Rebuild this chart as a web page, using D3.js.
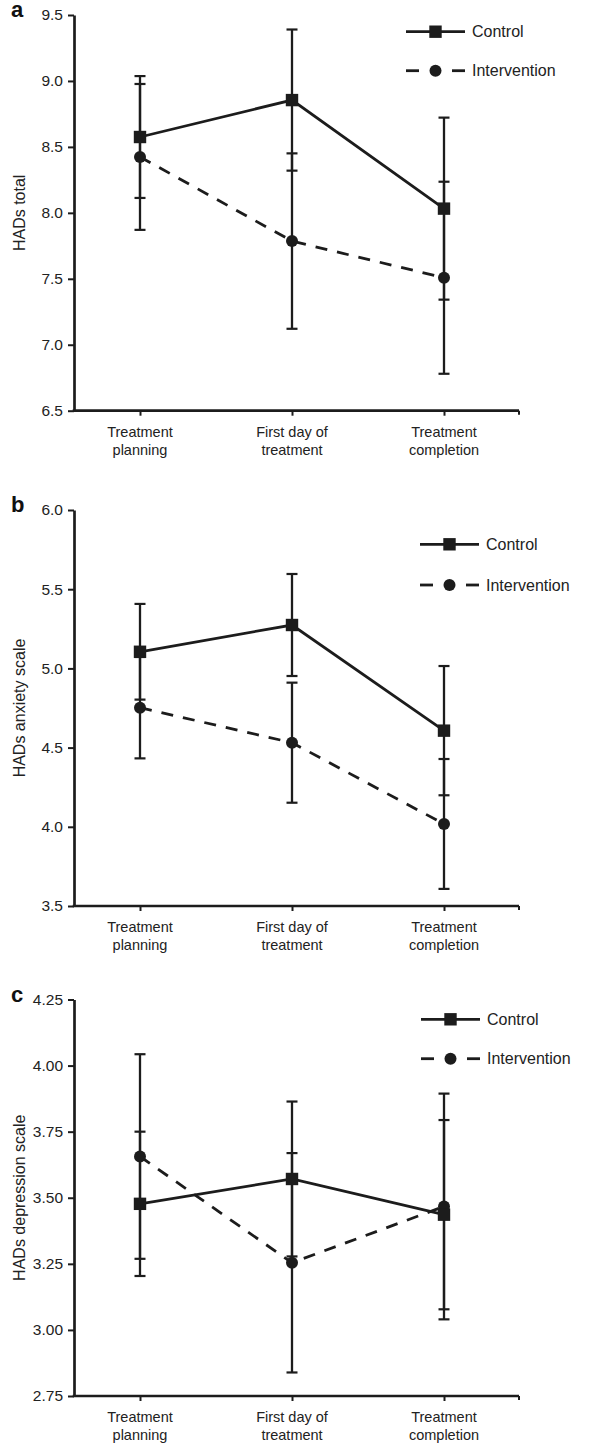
<!DOCTYPE html>
<html><head><meta charset="utf-8">
<script src="https://cdn.jsdelivr.net/npm/d3@7"></script>
<style>
html,body{margin:0;padding:0;background:#fff;}
svg{display:block;font-family:"Liberation Sans",Arial,Helvetica,sans-serif;}
</style></head>
<body>
<svg id="chart" width="605" height="1443"></svg>
<script>
// ---------- data ----------
const categories = [["Treatment","planning"],["First day of","treatment"],["Treatment","completion"]];
const seriesNames = ["Control","Intervention"];
const panelLetters = ["a","b","c"];
const yLabels = ["HADs total","HADs anxiety scale","HADs depression scale"];

const yTicksA = [6.5,7.0,7.5,8.0,8.5,9.0,9.5];
const yTicksB = [3.5,4.0,4.5,5.0,5.5,6.0];
const yTicksC = [2.75,3.00,3.25,3.50,3.75,4.00,4.25];

const controlA = [8.575, 8.855, 8.032];
const controlErrA = [0.462, 0.535, 0.69];
const interventionA = [8.424, 7.786, 7.508];
const interventionErrA = [0.553, 0.665, 0.728];

const controlB = [5.105, 5.274, 4.607];
const controlErrB = [0.302, 0.322, 0.408];
const interventionB = [4.752, 4.531, 4.018];
const interventionErrB = [0.32, 0.379, 0.41];

const controlC = [3.477, 3.571, 3.436];
const controlErrC = [0.273, 0.293, 0.358];
const interventionC = [3.656, 3.254, 3.467];
const interventionErrC = [0.387, 0.415, 0.427];

// ---------- layout ----------
const panels = [
  {ticks:yTicksA, fmt:".1f", ctrl:controlA, ctrlE:controlErrA, int:interventionA, intE:interventionErrA,
   yTop:15, yBot:410.7, letterY:17, legX:406, legY:[31.7,70.7]},
  {ticks:yTicksB, fmt:".1f", ctrl:controlB, ctrlE:controlErrB, int:interventionB, intE:interventionErrB,
   yTop:510, yBot:906, letterY:511.5, legX:420, legY:[544.3,585]},
  {ticks:yTicksC, fmt:".2f", ctrl:controlC, ctrlE:controlErrC, int:interventionC, intE:interventionErrC,
   yTop:999.5, yBot:1396, letterY:1001.5, legX:421, legY:[1019.3,1058.7]}
];
const axisX0 = 74, axisX1 = 519;
const ink = "#1c1c1c", textCol = "#222";
const dash = "12,10";

const svg = d3.select("#chart");
const x = d3.scalePoint().domain(d3.range(categories.length)).range([140,444]);

panels.forEach((p,pi)=>{
  const g = svg.append("g");
  const ext = d3.extent(p.ticks);
  const y = d3.scaleLinear().domain(ext).range([p.yBot,p.yTop]);

  // Y axis
  const ya = g.append("g").attr("transform",`translate(${axisX0},0)`)
    .call(d3.axisLeft(y).tickValues(p.ticks).tickSize(6).tickSizeOuter(0).tickPadding(5).tickFormat(d3.format(p.fmt)));
  ya.select(".domain").attr("stroke",ink).attr("stroke-width",2.7);
  ya.selectAll(".tick line").attr("stroke",ink).attr("stroke-width",2);
  ya.selectAll(".tick text").attr("fill",textCol).style("font-size","15.5px").style("font-family","Liberation Sans, Arial, sans-serif");

  // X axis
  g.append("line").attr("x1",axisX0-1.3).attr("x2",axisX1).attr("y1",p.yBot).attr("y2",p.yBot)
    .attr("stroke",ink).attr("stroke-width",2.7);
  g.append("line").attr("x1",axisX1).attr("x2",axisX1).attr("y1",p.yBot).attr("y2",p.yBot+4)
    .attr("stroke",ink).attr("stroke-width",2);
  const xa = g.append("g").attr("transform",`translate(0,${p.yBot})`)
    .call(d3.axisBottom(x).tickSize(5).tickSizeOuter(0).tickFormat(""));
  xa.select(".domain").remove();
  xa.selectAll(".tick line").attr("stroke",ink).attr("stroke-width",2);
  categories.forEach((c,i)=>{
    const t = g.append("text").attr("x",x(i)).attr("y",p.yBot+26).attr("text-anchor","middle")
      .attr("fill",textCol).style("font-size","14.5px");
    c.forEach((line,j)=>{
      t.append("tspan").attr("x",x(i)).attr("dy", j===0?0:18).text(line);
    });
  });

  // Y label
  g.append("text").attr("transform",`translate(19,${(p.yTop+p.yBot)/2}) rotate(-90)`)
    .attr("text-anchor","middle").attr("dominant-baseline","central")
    .attr("fill",textCol).style("font-size","16px").text(yLabels[pi]);

  // panel letter
  g.append("text").attr("x",11).attr("y",p.letterY).attr("fill","#111")
    .style("font-size","22px").style("font-weight","bold").text(panelLetters[pi]);

  // error bars
  const series = [
    {v:p.int, e:p.intE, dashed:true, marker:"circle"},
    {v:p.ctrl, e:p.ctrlE, dashed:false, marker:"square"}
  ];
  series.forEach(s=>{
    s.v.forEach((v,i)=>{
      const cx = x(i), top = y(v+s.e[i]), bot = y(v-s.e[i]);
      g.append("line").attr("x1",cx).attr("x2",cx).attr("y1",top).attr("y2",bot).attr("stroke",ink).attr("stroke-width",2.3);
      [top,bot].forEach(yy=>{
        g.append("line").attr("x1",cx-5.5).attr("x2",cx+5.5).attr("y1",yy).attr("y2",yy).attr("stroke",ink).attr("stroke-width",2.2);
      });
    });
  });
  // lines
  const lineGen = d3.line().x((d,i)=>x(i)).y(d=>y(d));
  series.forEach(s=>{
    g.append("path").datum(s.v).attr("d",lineGen).attr("fill","none").attr("stroke",ink)
      .attr("stroke-width",2.8).attr("stroke-dasharray", s.dashed?dash:null);
  });
  // markers
  series.forEach(s=>{
    s.v.forEach((v,i)=>{
      if(s.marker==="circle"){
        g.append("circle").attr("cx",x(i)).attr("cy",y(v)).attr("r",6).attr("fill",ink);
      } else {
        g.append("rect").attr("x",x(i)-6.2).attr("y",y(v)-6.2).attr("width",12.4).attr("height",12.4).attr("fill",ink);
      }
    });
  });

  // legend
  const lg = g.append("g");
  lg.append("line").attr("x1",p.legX).attr("x2",p.legX+59).attr("y1",p.legY[0]).attr("y2",p.legY[0])
    .attr("stroke",ink).attr("stroke-width",2.8);
  lg.append("rect").attr("x",p.legX+29.5-6.2).attr("y",p.legY[0]-6.2).attr("width",12.4).attr("height",12.4).attr("fill",ink);
  lg.append("text").attr("x",p.legX+66).attr("y",p.legY[0]).attr("dy","0.36em").attr("fill",textCol)
    .style("font-size","16px").text(seriesNames[0]);
  lg.append("line").attr("x1",p.legX).attr("x2",p.legX+13).attr("y1",p.legY[1]).attr("y2",p.legY[1])
    .attr("stroke",ink).attr("stroke-width",2.8);
  lg.append("line").attr("x1",p.legX+46).attr("x2",p.legX+59).attr("y1",p.legY[1]).attr("y2",p.legY[1])
    .attr("stroke",ink).attr("stroke-width",2.8);
  lg.append("circle").attr("cx",p.legX+29.5).attr("cy",p.legY[1]).attr("r",6).attr("fill",ink);
  lg.append("text").attr("x",p.legX+66).attr("y",p.legY[1]).attr("dy","0.36em").attr("fill",textCol)
    .style("font-size","16px").text(seriesNames[1]);
});
</script>
</body></html>
